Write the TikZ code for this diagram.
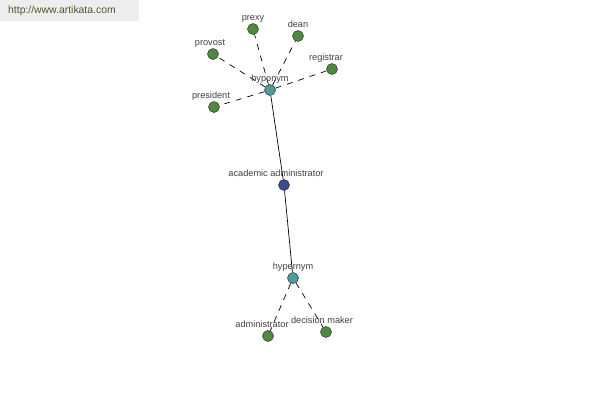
\documentclass[tikz,border=0pt]{standalone}
\usepackage{fontspec}
\setmainfont{Liberation Sans}
\usepackage{xcolor}
\usepackage{tikz}
\usetikzlibrary{backgrounds}
\definecolor{leafgreen}{HTML}{4E8A3E}
\definecolor{relteal}{HTML}{4F9A9A}
\definecolor{rootblue}{HTML}{3E4C8E}
\definecolor{txtgray}{HTML}{404040}
\definecolor{bargray}{HTML}{EDEDED}
\definecolor{urlgreen}{HTML}{4A5A2A}
\tikzset{
    dot/.style={
        circle, draw=black!80, line width=0.5pt, minimum size=11pt,
        inner sep=0pt,
    },
    leaf/.style={dot, fill=leafgreen},
    rel/.style={dot, fill=relteal},
    root/.style={dot, fill=rootblue},
    lbl/.style={
        font=\fontsize{9.2}{10}\selectfont\color{txtgray},
        inner sep=0pt, text depth=0pt,
    },
    lnk/.style={line width=0.7pt, black},
    dlnk/.style={line width=0.7pt, black, dash pattern=on 6pt off 6pt},
}
\begin{document}
\begin{tikzpicture}[x=1pt, y=-1pt, label distance=2.5pt]

\useasboundingbox (0,0) rectangle (600,400);

% url bar
\node[fill=bargray, minimum width=139pt, minimum height=21pt, anchor=north west,
      font=\fontsize{10.4}{11}\selectfont\color{urlgreen}, inner sep=0pt,
      text width=123pt, align=left, inner xsep=8pt]
    (url) at (0,0) {http://www.artikata.com};

% centre and relations
\node[root, label={[lbl, xshift=-8pt]above:academic administrator}] (acad) at (284,185) {};
\node[rel, label={[lbl]above:hyponym}] (hypo) at (270,90) {};
\node[rel, label={[lbl]above:hypernym}] (hyper) at (293,278) {};

% hyponyms
\node[leaf, label={[lbl]above:prexy}] (prexy) at (253,29) {};
\node[leaf, label={[lbl]above:dean}] (dean) at (298,36) {};
\node[leaf, label={[lbl, xshift=-3pt]above:provost}] (provost) at (213,54) {};
\node[leaf, label={[lbl, xshift=-6pt]above:registrar}] (registrar) at (332,69) {};
\node[leaf, label={[lbl, xshift=-3pt]above:president}] (president) at (214,107) {};

% hypernyms
\node[leaf, label={[lbl, xshift=-6pt]above:administrator}] (admin) at (268,336) {};
\node[leaf, label={[lbl, xshift=-4pt]above:decision maker}] (decider) at (326,332) {};

% Links
\begin{pgfonlayer}{background}
\draw[lnk] (hypo) -- (acad);
\draw[lnk] (acad) -- (hyper);
\foreach \n in {prexy, dean, provost, registrar, president}
    \draw[dlnk] (hypo) -- (\n);
\foreach \n in {admin, decider}
    \draw[dlnk] (hyper) -- (\n);
\end{pgfonlayer}

\end{tikzpicture}
\end{document}
